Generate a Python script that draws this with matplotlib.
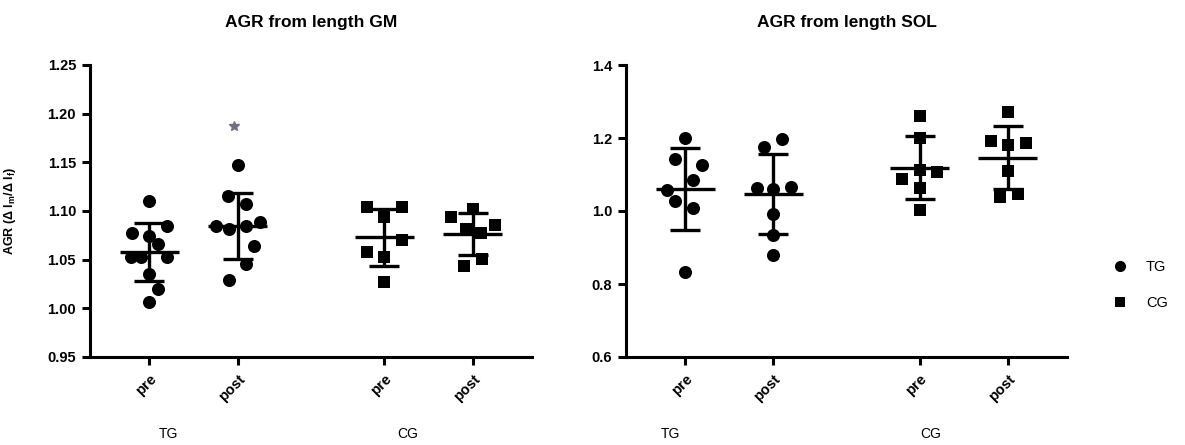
import numpy as np
import matplotlib
matplotlib.use("Agg")
import matplotlib.pyplot as plt
from matplotlib.lines import Line2D

plt.rcParams['font.family'] = ['Liberation Sans', 'DejaVu Sans']

# ---------------- data ----------------
tick_labels = ["pre", "post", "pre", "post"]
group_labels = ["TG", "CG"]
legend_labels = ["TG", "CG"]

gm_titles = "AGR from length GM"
sol_title = "AGR from length SOL"

# GM panel values
gm_tg_pre = [1.110, 1.085, 1.077, 1.074, 1.066, 1.053, 1.053, 1.053, 1.035, 1.020, 1.006]
gm_tg_post = [1.147, 1.115, 1.107, 1.085, 1.081, 1.085, 1.089, 1.064, 1.046, 1.029]
gm_tg_post_outlier = [1.187]
gm_cg_pre = [1.104, 1.104, 1.094, 1.070, 1.058, 1.053, 1.027]
gm_cg_post = [1.102, 1.094, 1.086, 1.081, 1.077, 1.051, 1.043]

# SOL panel values
sol_tg_pre = [1.201, 1.143, 1.126, 1.085, 1.058, 1.027, 1.007, 0.832]
sol_tg_post = [1.197, 1.176, 1.062, 1.060, 1.067, 0.991, 0.934, 0.880]
sol_cg_pre = [1.260, 1.199, 1.112, 1.106, 1.087, 1.064, 1.003]
sol_cg_post = [1.272, 1.193, 1.181, 1.185, 1.110, 1.038, 1.046]

# horizontal scatter offsets of the points (category units)
gm_tg_pre_dx = [0, 0.20, -0.20, 0, 0.10, -0.21, -0.09, 0.20, 0, 0.10, 0]
gm_tg_post_dx = [0, -0.11, 0.10, -0.25, -0.10, 0.09, 0.25, 0.19, 0.10, -0.10]
gm_cg_pre_dx = [-0.20, 0.20, 0, 0.20, -0.20, 0, 0]
gm_cg_post_dx = [0, -0.25, 0.25, -0.08, 0.09, 0.10, -0.10]
sol_tg_pre_dx = [0, -0.11, 0.19, 0.09, -0.21, -0.11, 0.09, 0]
sol_tg_post_dx = [0.10, -0.10, -0.19, 0, 0.20, 0, 0, 0]
sol_cg_pre_dx = [0, 0, 0, 0.20, -0.20, 0, 0]
sol_cg_post_dx = [0, -0.19, 0, 0.20, 0, -0.09, 0.11]

positions = [0, 1, 2.66, 3.66]

# ---------------- figure ----------------
W, H = 1185, 445
fig = plt.figure(figsize=(W / 100, H / 100), dpi=100)

def px_axes(x0, y0, x1, y1):
    return fig.add_axes([x0 / W, 1 - y1 / H, (x1 - x0) / W, (y1 - y0) / H])

axL = px_axes(90, 65, 532, 357)
axR = px_axes(626, 65, 1067, 357)

LW = 2.4
CIRC = 9.4
SQ = 8.8

def draw_group(ax, x, vals, dx, marker, ms):
    vals = np.asarray(vals, float)
    xs = x + np.asarray(dx, float)
    ax.plot(xs, vals, linestyle='none', marker=marker, ms=ms, color='black',
            markeredgewidth=0, zorder=3, clip_on=False)
    m = vals.mean()
    sd = vals.std(ddof=1)
    ax.plot([x - 0.335, x + 0.335], [m, m], color='black', lw=LW, zorder=4,
            solid_capstyle='butt')
    ax.plot([x, x], [m - sd, m + sd], color='black', lw=LW, zorder=4,
            solid_capstyle='butt')
    for yy in (m - sd, m + sd):
        ax.plot([x - 0.17, x + 0.17], [yy, yy], color='black', lw=LW, zorder=4,
                solid_capstyle='butt')

def style_axes(ax, ylim, yticks, fmt, title, group_x):
    ax.set_xlim(-0.67, 4.33)
    ax.set_ylim(*ylim)
    ax.set_yticks(yticks)
    ax.set_yticklabels([fmt % v for v in yticks], fontweight='bold', fontsize=10.5)
    ax.set_xticks(positions)
    ax.set_xticklabels(tick_labels, rotation=45, ha='right', va='top',
                       rotation_mode='anchor', fontweight='bold', fontsize=10.5)
    for s in ('top', 'right'):
        ax.spines[s].set_visible(False)
    for s in ('left', 'bottom'):
        ax.spines[s].set_linewidth(2.2)
    ax.tick_params(axis='both', width=2.2, length=6, direction='out', pad=4)
    ax.tick_params(axis='x', pad=5)
    ax.text(0.5, 1 + (65 - 22) / 292, title, transform=ax.transAxes,
            ha='center', va='center', fontsize=12.5, fontweight='bold')
    for gx, gl in zip(group_x, group_labels):
        ax.text(gx, -(434 - 357) / 292, gl, transform=ax.get_xaxis_transform(),
                ha='center', va='center', fontsize=10)

# GM
draw_group(axL, positions[0], gm_tg_pre, gm_tg_pre_dx, 'o', CIRC)
draw_group(axL, positions[1], gm_tg_post, gm_tg_post_dx, 'o', CIRC)
draw_group(axL, positions[2], gm_cg_pre, gm_cg_pre_dx, 's', SQ)
draw_group(axL, positions[3], gm_cg_post, gm_cg_post_dx, 's', SQ)
axL.plot([positions[1] - 0.04] * len(gm_tg_post_outlier), gm_tg_post_outlier,
         linestyle='none', marker='*', ms=7, color='#6f6f86', zorder=3)
style_axes(axL, (0.95, 1.25), [0.95, 1.00, 1.05, 1.10, 1.15, 1.20, 1.25], '%.2f',
           gm_titles, [0.22, 2.92])
axL.set_ylabel('AGR (Δ l$_\\mathregular{m}$/Δ l$_\\mathregular{f}$)',
               fontsize=9, fontweight='bold')
axL.yaxis.set_label_coords(-(90 - 18) / 442, 0.5)

# SOL
draw_group(axR, positions[0], sol_tg_pre, sol_tg_pre_dx, 'o', CIRC)
draw_group(axR, positions[1], sol_tg_post, sol_tg_post_dx, 'o', CIRC)
draw_group(axR, positions[2], sol_cg_pre, sol_cg_pre_dx, 's', SQ)
draw_group(axR, positions[3], sol_cg_post, sol_cg_post_dx, 's', SQ)
style_axes(axR, (0.6, 1.4), [0.6, 0.8, 1.0, 1.2, 1.4], '%.1f',
           sol_title, [-0.17, 2.78])

# legend
handles = [Line2D([], [], linestyle='none', marker='o', ms=8, color='black', markeredgewidth=0),
           Line2D([], [], linestyle='none', marker='s', ms=7, color='black', markeredgewidth=0)]
fig.legend(handles, legend_labels, loc='center left',
           bbox_to_anchor=(1098 / W, 1 - 285 / H), frameon=False,
           fontsize=10.5, labelspacing=1.5, handletextpad=1.2, handlelength=1.2)

fig.savefig('out.png', dpi=100)
